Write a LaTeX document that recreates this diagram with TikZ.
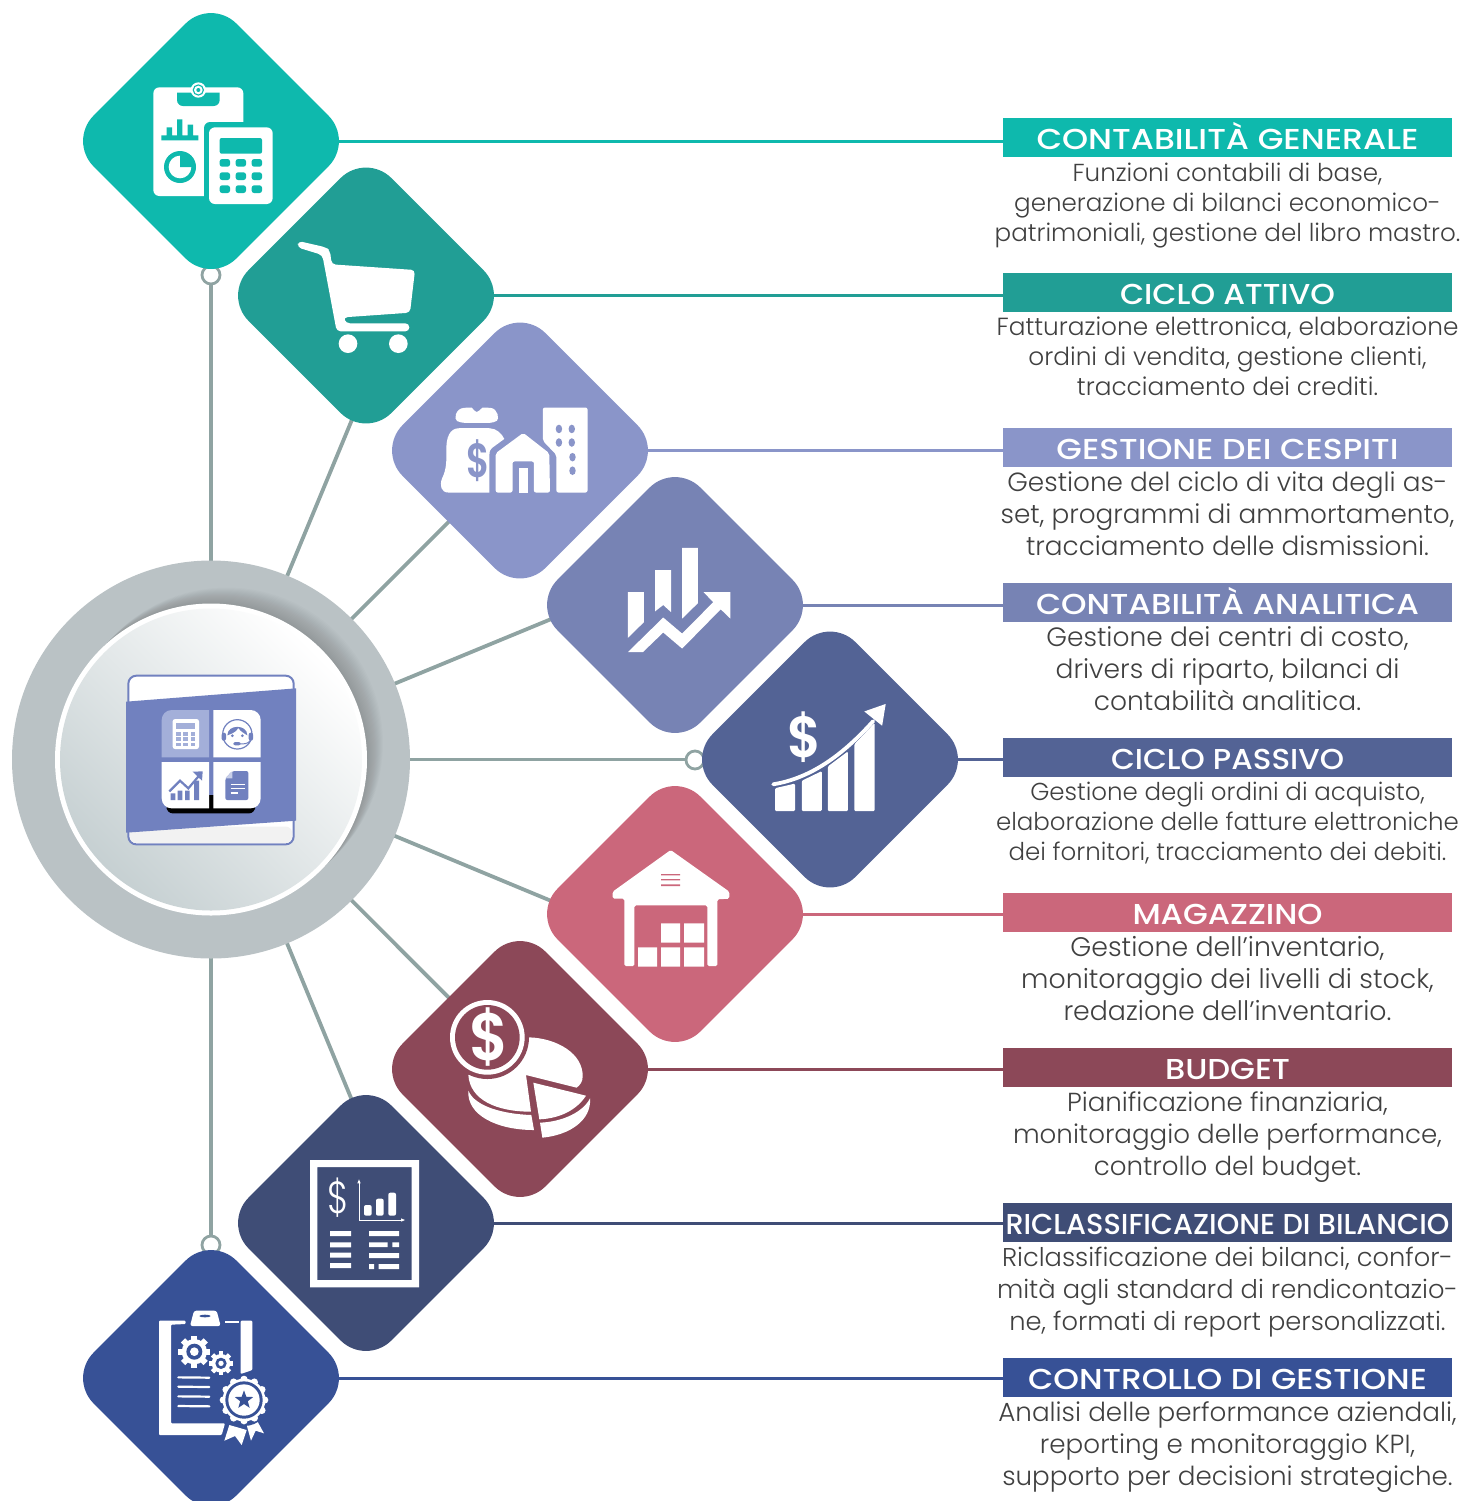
\documentclass[tikz,border=0pt]{standalone}
\usepackage{fontspec}
\usetikzlibrary{shapes.geometric,backgrounds,calc}
\setmainfont{Poppins Light}[BoldFont=Poppins SemiBold]
\newfontfamily\headf{Poppins Medium}
\definecolor{cA}{HTML}{0EB9AD}
\definecolor{cB}{HTML}{219E95}
\definecolor{cC}{HTML}{8A95C9}
\definecolor{cD}{HTML}{7783B4}
\definecolor{cE}{HTML}{536395}
\definecolor{cF}{HTML}{CB677B}
\definecolor{cG}{HTML}{8C4858}
\definecolor{cH}{HTML}{3F4D76}
\definecolor{cI}{HTML}{375196}
\definecolor{spoke}{HTML}{8FA3A2}
\definecolor{ring}{HTML}{BAC2C5}
\definecolor{hubdark}{HTML}{C6D0D2}
\definecolor{iconblue}{HTML}{7181BF}
\definecolor{iconpale}{HTML}{A3AFD9}
\definecolor{bodytxt}{HTML}{404040}
\newcommand{\fitw}[2]{\resizebox{#1pt}{\height}{#2}}
\tikzset{
  dia/.style={diamond,aspect=1,inner sep=0pt,minimum width=143pt,minimum height=143pt,rounded corners=18pt,fill=#1},
  headbar/.style={rectangle,inner sep=0pt,minimum width=224.5pt,minimum height=19.5pt,text height=15.5pt,text depth=4pt,fill=#1,text=white,font=\headf\fontsize{14.4}{16}\selectfont},
  bodyA/.style={align=center,inner sep=0pt,text=bodytxt,font=\fontsize{#1}{15}\selectfont},
  bodyB/.style={align=center,inner sep=0pt,text=bodytxt,font=\fontsize{#1}{16}\selectfont},
  knob/.style={circle,draw=spoke,fill=white,line width=1.4pt,inner sep=0pt,minimum size=9pt},
  spokeline/.style={draw=spoke,line width=1.9pt},
  link/.style={draw=#1,line width=1.5pt},
  zthree/.style={x=0.166667pt,y=-0.166667pt},
  ztwo/.style={x=0.178571pt,y=-0.178571pt},
  dollar/.style={inner sep=0pt,font=\bfseries\fontsize{#1}{#1}\selectfont}
}
\begin{document}
\begin{tikzpicture}[x=0.5pt,y=-0.5pt]
\useasboundingbox (0,0) rectangle (1464,1501);
% hub
\node[circle,inner sep=0pt,minimum size=199pt,fill=ring] (hub) at (211,759.5) {};
\foreach \o in {1,2,...,16}{
  \fill[black,opacity=0.012] ($(hub.center)+(\o,-\o)$) circle (78pt);
}
\fill[white] (hub.center) circle (78pt);
\shade[top color=white,bottom color=hubdark,shading angle=-45] (hub.center) circle (75.5pt);
% diamonds
\node[dia=cA] (dA) at (211,141) {};
\node[dia=cB] (dB) at (366,295.5) {};
\node[dia=cC] (dC) at (520,450.5) {};
\node[dia=cD] (dD) at (675,605) {};
\node[dia=cE] (dE) at (830,759.5) {};
\node[dia=cF] (dF) at (675,914) {};
\node[dia=cG] (dG) at (520,1069) {};
\node[dia=cH] (dH) at (366,1223) {};
\node[dia=cI] (dI) at (211,1378) {};
% headers
\node[headbar=cA] (hA) at (1227.5,137.5) {\fitw{191}{CONTABILITÀ GENERALE}};
\node[headbar=cB] (hB) at (1227.5,292.5) {\fitw{107.5}{CICLO ATTIVO}};
\node[headbar=cC] (hC) at (1227.5,447.5) {\fitw{171}{GESTIONE DEI CESPITI}};
\node[headbar=cD] (hD) at (1227.5,602.5) {\fitw{191.5}{CONTABILITÀ ANALITICA}};
\node[headbar=cE] (hE) at (1227.5,757.5) {\fitw{116.5}{CICLO PASSIVO}};
\node[headbar=cF] (hF) at (1227.5,912.5) {\fitw{95}{MAGAZZINO}};
\node[headbar=cG] (hG) at (1227.5,1067.5) {\fitw{62.5}{BUDGET}};
\node[headbar=cH] (hH) at (1227.5,1222.5) {\fitw{222}{RICLASSIFICAZIONE DI BILANCIO}};
\node[headbar=cI] (hI) at (1227.5,1377.5) {\fitw{199.5}{CONTROLLO DI GESTIONE}};
% body texts
\node[bodyA=12.3] (tA) at (1227.5,205.5) {Funzioni contabili di base,\\generazione di bilanci economico-\\patrimoniali, gestione del libro mastro.};
\node[bodyA=12.4] (tB) at (1227.5,356) {Fatturazione elettronica, elaborazione\\ordini di vendita, gestione clienti,\\tracciamento dei crediti.};
\node[bodyB=13.15] (tC) at (1227.5,514) {Gestione del ciclo di vita degli as-\\set, programmi di ammortamento,\\tracciamento delle dismissioni.};
\node[bodyB=13.25] (tD) at (1227.5,669) {Gestione dei centri di costo,\\drivers di riparto, bilanci di\\contabilità analitica.};
\node[bodyA=12.25] (tE) at (1227.5,823.5) {Gestione degli ordini di acquisto,\\elaborazione delle fatture elettroniche\\dei fornitori, tracciamento dei debiti.};
\node[bodyB=13.4] (tF) at (1227.5,979) {Gestione dell’inventario,\\monitoraggio dei livelli di stock,\\redazione dell’inventario.};
\node[bodyB=13.05] (tG) at (1227.5,1137) {Pianificazione finanziaria,\\monitoraggio delle performance,\\controllo del budget.};
\node[bodyB=12.86] (tH) at (1227.5,1292) {Riclassificazione dei bilanci, confor-\\mità agli standard di rendicontazio-\\ne, formati di report personalizzati.};
\node[bodyB=13.1] (tI) at (1227.5,1447) {Analisi delle performance aziendali,\\reporting e monitoraggio KPI,\\supporto per decisioni strategiche.};
% connectors behind everything
\begin{scope}[on background layer]
  \draw[link=cA] (dA.center) -- (dA.center -| hA.west);
  \draw[link=cB] (dB.center) -- (dB.center -| hB.west);
  \draw[link=cC] (dC.center) -- (dC.center -| hC.west);
  \draw[link=cD] (dD.center) -- (dD.center -| hD.west);
  \draw[link=cE] (dE.center) -- (dE.center -| hE.west);
  \draw[link=cF] (dF.center) -- (dF.center -| hF.west);
  \draw[link=cG] (dG.center) -- (dG.center -| hG.west);
  \draw[link=cH] (dH.center) -- (dH.center -| hH.west);
  \draw[link=cI] (dI.center) -- (dI.center -| hI.west);
  \coordinate (eB) at (356,410);
  \coordinate (eD) at (561,615);
  \coordinate (eF) at (561,905);
  \coordinate (eH) at (356,1110);
  \draw[spokeline] (hub.center) -- (dA.center);
  \draw[spokeline] (hub.center) -- (eB);
  \draw[spokeline] (hub.center) -- (dC.center);
  \draw[spokeline] (hub.center) -- (eD);
  \draw[spokeline] (hub.center) -- (dE.center);
  \draw[spokeline] (hub.center) -- (eF);
  \draw[spokeline] (hub.center) -- (dG.center);
  \draw[spokeline] (hub.center) -- (eH);
  \draw[spokeline] (hub.center) -- (dI.center);
  \node[knob] (kA) at (211,275) {};
  \node[knob] (kE) at (695,760) {};
  \node[knob] (kI) at (211,1245) {};
\end{scope}
% central icon
\begin{scope}[shift={(0,550)},zthree]
  \filldraw[draw=iconblue,fill=white,line width=1pt,rounded corners=4pt] (385,377) rectangle (881,883);
  \fill[black!5,rounded corners=3pt] (390,830) rectangle (876,879);
  \fill[iconblue] (378,455) -- (888,415) -- (888,812) -- (378,848) -- cycle;
  \fill[black,rounded corners=3pt] (500,760) rectangle (765,790);
  \fill[black] (625,735) rectangle (642,785);
  \fill[iconpale] (627,622) -- (485,622) [rounded corners=5pt] -- (485,480) [sharp corners] -- (627,480) -- cycle;
  \fill[white] (640,622) -- (782,622) [rounded corners=5pt] -- (782,480) [sharp corners] -- (640,480) -- cycle;
  \fill[white] (627,636) -- (485,636) [rounded corners=5pt] -- (485,775) [sharp corners] -- (627,775) -- cycle;
  \fill[white] (640,636) -- (782,636) [rounded corners=5pt] -- (782,775) [sharp corners] -- (640,775) -- cycle;
  % calculator
  \fill[white,rounded corners=1.2pt] (518,507) rectangle (597,597);
  \fill[iconpale] (528,520) rectangle (586,538);
  \foreach \u in {528,550,572}\foreach \v in {547,562,578}{\fill[iconpale] (\u,\v) rectangle ++(14,10);}
  % headset
  \draw[iconblue,line width=0.6pt] (712,553) circle (44);
  \fill[iconblue] (682,556) .. controls (682,522) and (742,522) .. (742,556) .. controls (733,550) and (722,545) .. (715,534) .. controls (707,548) and (692,552) .. (682,556) -- cycle;
  \fill[iconblue,rounded corners=1pt] (665,548) rectangle (678,572);
  \fill[iconblue,rounded corners=1pt] (746,548) rectangle (759,572);
  \fill[iconblue] (697,557) circle (4.5) (727,557) circle (4.5);
  \draw[iconblue,line width=0.5pt] (750,572) .. controls (745,582) and (730,582) .. (715,582);
  \fill[iconblue,rounded corners=1pt] (700,576) rectangle (722,586);
  % chart
  \fill[iconblue] (512,730) rectangle (526,750) (533,722) rectangle (547,750) (555,722) rectangle (569,750) (582,692) rectangle (597,750);
  \draw[iconblue,line width=1.1pt] (508,724) -- (540,692) -- (565,715) -- (598,676);
  \fill[iconblue] (578,665) -- (608,664) -- (606,692) -- cycle;
  % document
  \fill[iconblue,rounded corners=1pt] (697,663) -- (745,663) -- (745,750) -- (676,750) -- (676,685) -- cycle;
  \fill[iconpale!60] (697,663) -- (676,685) -- (697,685) -- cycle;
  \draw[white,line width=0.7pt] (692,703) -- (735,703) (692,716) -- (735,716) (692,729) -- (715,729);
\end{scope}
% icon A
\begin{scope}[shift={(80,10)},zthree]
  \fill[white,rounded corners=3pt] (220,232) rectangle (490,558);
  \fill[cA] (372,558) -- (372,356) [rounded corners=3pt] -- (372,336) [sharp corners] -- (500,336) -- (500,565) -- (372,565) -- cycle;
  \fill[white,rounded corners=3pt] (387,352) rectangle (578,582);
  \fill[cA,rounded corners=1pt] (419,384) rectangle (546,431);
  \foreach \u in {419,467,515}\foreach \v in {447,487,526}{\fill[cA,rounded corners=1.2pt] (\u,\v) rectangle ++(31,23);}
  \fill[cA] (291,248) -- (419,248) [rounded corners=3pt] -- (419,288) -- (291,288) [sharp corners] -- cycle;
  \fill[white] (355,240) circle (23);
  \fill[cA] (355,240) circle (17);
  \fill[white] (355,240) circle (13);
  \fill[cA] (355,240) circle (6);
  \fill[cA] (244,376) rectangle (355,391) (260,352) rectangle (276,376) (291,328) rectangle (307,376) (323,344) rectangle (339,376);
  \fill[cA] (300,471) circle (48);
  \fill[white] (300,471) circle (34);
  \fill[cA] (300,471) -- (300,432) arc[start angle=-90,end angle=0,radius=39] -- cycle;
\end{scope}
% icon B cart
\begin{scope}[shift={(80,10)},zthree]
  \fill[white,rounded corners=2pt] (655,693) -- (738,712) -- (750,722) -- (755,763) -- (1005,780) -- (990,908) -- (790,922) -- (798,940) -- (988,940) -- (988,964) -- (770,964) -- (727,735) -- (652,712) -- cycle;
  \fill[white] (804,1001) circle (28) (955,1001) circle (28);
\end{scope}
% icons C D E
\begin{scope}[shift={(400,330)},ztwo]
  % money bag
  \fill[white,rounded corners=2pt] (170,260) .. controls (150,250) and (155,220) .. (190,217) .. controls (200,217) and (208,225) .. (215,235) .. controls (222,225) and (232,217) .. (242,217) .. controls (275,220) and (278,250) .. (262,260) -- cycle;
  \fill[white] (165,275) -- (250,275) .. controls (270,275) and (285,290) .. (292,305) -- (258,330) .. controls (250,337) and (250,345) .. (250,355) -- (250,455) -- (135,455) .. controls (115,455) and (110,435) .. (118,415) .. controls (130,390) and (130,370) .. (130,340) .. controls (128,300) and (140,275) .. (165,275) -- cycle;
  \node[dollar=24,text=cC] (dlC) at (219,366) {\scalebox{0.75}[1]{\$}};
  % house
  \fill[white,rounded corners=1pt] (345,288) -- (418,345) -- (420,455) -- (375,455) -- (375,368) -- (315,368) -- (315,455) -- (268,455) -- (268,345) -- cycle;
  \fill[white] (332,385) rectangle (357,455);
  % building
  \fill[white,rounded corners=1pt] (400,217) -- (525,217) -- (525,455) -- (438,455) -- (438,350) -- (400,310) -- cycle;
  \foreach \u/\v in {445/277,481/277,445/315,481/315,483/356,483/394}{\fill[cC] (\u,\v) ellipse [x radius=9,y radius=12];}
  % chart D
  \fill[white] (638,734) -- (683,734) -- (683,818) -- (638,862) -- cycle;
  \fill[white] (714,672) -- (759,672) -- (759,790) -- (737,770) -- (714,788) -- cycle;
  \fill[white] (790,610) -- (834,610) -- (834,765) -- (790,808) -- cycle;
  \fill[white] (638,902) -- (737,805) -- (790,850) -- (877,762) -- (850,734) -- (925,734) -- (925,808) -- (898,782) -- (790,892) -- (737,847) -- (680,902) -- cycle;
  % growth E
  \fill[white,rounded corners=0.6pt] (1050,1347) -- (1050,1283) -- (1106,1270) -- (1106,1347) -- cycle;
  \fill[white,rounded corners=0.6pt] (1125,1347) -- (1125,1262) -- (1181,1235) -- (1181,1347) -- cycle;
  \fill[white,rounded corners=0.6pt] (1198,1347) -- (1198,1222) -- (1254,1180) -- (1254,1347) -- cycle;
  \fill[white,rounded corners=0.6pt] (1272,1347) -- (1272,1160) -- (1329,1100) -- (1329,1347) -- cycle;
  \draw[white,line width=1.9pt,line cap=round] (1045,1272) .. controls (1150,1255) and (1240,1190) .. (1325,1095);
  \fill[white] (1300,1068) -- (1360,1047) -- (1350,1108) -- cycle;
  \node[dollar=29,text=white] (dlE) at (1134,1141) {\scalebox{0.9}[1]{\$}};
\end{scope}
% icon F warehouse
\begin{scope}[shift={(400,790)},zthree]
  \fill[white,rounded corners=0.8pt] (812,180) -- (988,305) -- (988,326) -- (952,328) -- (952,528) -- (922,528) -- (922,346) -- (703,346) -- (703,528) -- (673,528) -- (673,326) -- (638,326) -- (638,305) -- cycle;
  \fill[cF] (783,252) rectangle (840,256) (783,267) rectangle (840,271) (783,283) rectangle (840,288);
  \fill[white] (783,400) rectangle (840,458) (852,400) rectangle (912,458) (714,472) rectangle (771,530) (783,472) rectangle (840,530) (852,472) rectangle (912,530);
\end{scope}
% icon G coin and pie
\begin{scope}[shift={(400,790)},zthree]
  \fill[white] (388,742) .. controls (470,745) and (550,790) .. (548,860) .. controls (548,875) and (540,885) .. (530,893) -- (378,855) -- (393,965) .. controls (290,965) and (210,930) .. (205,855) -- cycle;
  \fill[white] (205,902) .. controls (225,950) and (310,972) .. (394,975) -- (402,1020) .. controls (290,1020) and (200,975) .. (205,902) -- cycle;
  \fill[white] (400,878) -- (558,917) .. controls (530,960) and (480,985) .. (418,988) -- cycle;
  \fill[white] (570,925) .. controls (575,990) and (510,1035) .. (427,1043) -- (420,998) .. controls (490,995) and (550,965) .. (570,925) -- cycle;
  \fill[cG] (262,742) circle (125);
  \fill[white] (262,742) circle (112);
  \fill[cG] (262,742) circle (97);
  \node[dollar=33.5,text=white] (dlG) at (268,742) {\scalebox{0.9}[1]{\$}};
\end{scope}
% icon H report
\begin{scope}[shift={(90,1100)},zthree]
  \fill[white,even odd rule] (660,180) rectangle (987,562) (682,201) rectangle (965,540);
  \node[inner sep=0pt,text=white,font=\fontsize{22.5}{22.5}\selectfont] (dlH) at (745,293) {\scalebox{0.8}[1]{\$}};
  \draw[white,line width=0.4pt] (807,245) -- (807,360) -- (935,360);
  \fill[white] (807,238) -- (812,250) -- (802,250) -- cycle (945,360) -- (933,355) -- (933,365) -- cycle;
  \fill[white,rounded corners=1pt] (822,315) rectangle (845,347) (858,296) rectangle (881,347) (895,278) rectangle (918,347);
  \fill[white] (720,393) rectangle (783,408) (720,427) rectangle (783,442) (720,458) rectangle (783,473) (720,489) rectangle (783,504);
  \fill[white] (837,393) rectangle (927,408) (837,427) rectangle (893,441) (907,427) rectangle (927,441) (837,459) rectangle (927,474) (837,492) rectangle (852,507) (866,492) rectangle (927,507);
\end{scope}
% icon I clipboard
\begin{scope}[shift={(90,1100)},zthree]
  \fill[white,rounded corners=0.5pt] (207,662) -- (287,662) -- (287,672) -- (243,674) -- (243,970) -- (405,970) -- (395,1005) -- (207,1005) -- cycle;
  \fill[white,rounded corners=0.5pt] (452,662) -- (487,662) -- (487,810) -- (452,822) -- cycle;
  \fill[white] (405,662) rectangle (448,670);
  \fill[white,rounded corners=1.2pt] (312,632) -- (380,632) -- (392,678) -- (300,678) -- cycle;
  \fill[cI] (345,648) ellipse [x radius=17,y radius=4];
  \begin{scope}[shift={(313,755)}]
    \foreach \a in {0,45,...,135}{\fill[white,rotate=\a] (-9,-48) rectangle (9,48);}
    \fill[white] (0,0) circle (38);
    \fill[cI] (0,0) circle (24);
    \fill[white] (0,0) circle (13);
  \end{scope}
  \begin{scope}[shift={(393,790)}]
    \foreach \a in {0,45,...,135}{\fill[white,rotate=\a] (-7,-36) rectangle (7,36);}
    \fill[white] (0,0) circle (28);
    \fill[cI] (0,0) circle (17);
    \fill[white] (0,0) circle (8);
  \end{scope}
  \draw[white,line width=1.1pt,line cap=round] (265,832) -- (358,833) (265,860) -- (358,861) (265,889) -- (358,890) (265,918) -- (358,919);
  \fill[white] (418,975) -- (403,1022) -- (435,1008) -- (455,1035) -- (470,990) -- cycle;
  \fill[white] (470,975) -- (483,1022) -- (497,992) -- (522,1000) -- (500,960) -- cycle;
  \begin{scope}[shift={(462,900)}]
    \fill[cI] (0,0) circle (78);
    \foreach \a in {0,30,...,330}{\fill[white] (\a:62) circle (11);}
    \fill[white] (0,0) circle (64);
    \fill[cI] (0,0) circle (56);
    \fill[white] (0,0) circle (47);
    \fill[cI] (-90:29) -- (-54:12) -- (-18:29) -- (18:12) -- (54:29) -- (90:12) -- (126:29) -- (162:12) -- (198:29) -- (234:12) -- cycle;
  \end{scope}
\end{scope}
\end{tikzpicture}
\end{document}
